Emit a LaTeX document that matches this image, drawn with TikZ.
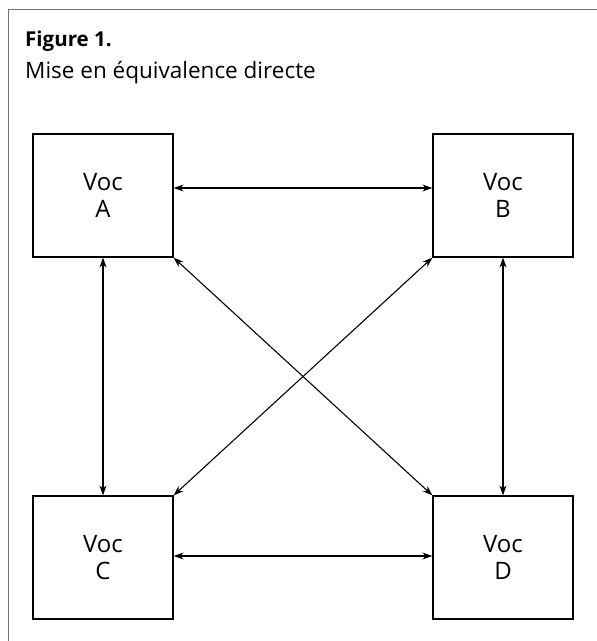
\documentclass[tikz,border=0pt]{standalone}
\usepackage{fontspec}
\setmainfont{Open Sans}
\usetikzlibrary{arrows.meta}
\begin{document}
\begin{tikzpicture}[x=1pt,y=-1pt,
  vocbox/.style={draw,line width=1.2pt,minimum width=140pt,minimum height=123pt,inner sep=0pt,
    align=center,font=\fontsize{24}{27}\selectfont},
  link/.style={line width=1.1pt,{Stealth[length=10pt,width=7pt]}-{Stealth[length=10pt,width=7pt]}},
  frameline/.style={draw=black!55,line width=0.8pt},
  ttl/.style={anchor=base west,inner sep=0pt}]
\useasboundingbox (0,0) rectangle (597,641);
\draw[frameline] (8,641) -- (8,9) -- (597,9);
\node[ttl,font=\fontsize{20.5}{26}\selectfont\bfseries] (t1) at (25,46) {Figure 1.};
\node[ttl,font=\fontsize{22.5}{25}\selectfont] (t2) at (25,78) {Mise en équivalence directe};
\node[vocbox] (A) at (103,195.5) {Voc\\A};
\node[vocbox] (B) at (503,195.5) {Voc\\B};
\node[vocbox] (C) at (103,557.5) {Voc\\C};
\node[vocbox] (D) at (503,557.5) {Voc\\D};
\draw[link] ([yshift=7.5pt]A.east) -- ([yshift=7.5pt]B.west);
\draw[link] ([yshift=1.5pt]C.east) -- ([yshift=1.5pt]D.west);
\draw[link] (A.south) -- (C.north);
\draw[link] (B.south) -- (D.north);
\draw[link] (A.south east) -- (D.north west);
\draw[link] (B.south west) -- (C.north east);
\end{tikzpicture}
\end{document}
